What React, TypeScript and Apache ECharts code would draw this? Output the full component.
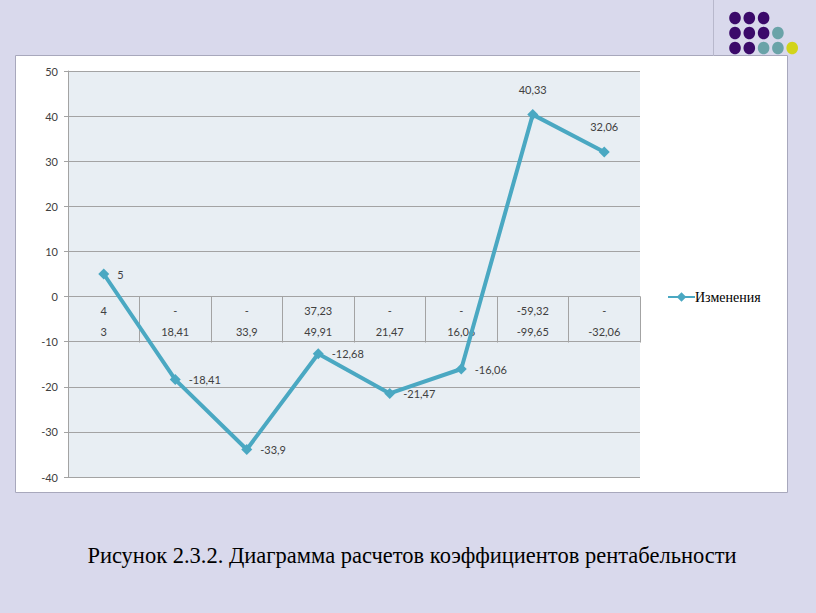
import React, { useEffect, useRef } from "react";
import * as echarts from "echarts";

const seriesName = "Изменения";
const values: number[] = [5, -18.41, -33.9, -12.68, -21.47, -16.06, 40.33, 32.06];
const tableRow1: string[] = ["4", "-", "-", "37,23", "-", "-", "-59,32", "-"];
const tableRow2: string[] = ["3", "18,41", "33,9", "49,91", "21,47", "16,06", "-99,65", "-32,06"];
const labelAbove: boolean[] = [false, false, false, false, false, false, true, true];
const yMin = -40;
const yMax = 50;
const yStep = 10;
const caption = "Рисунок 2.3.2. Диаграмма расчетов коэффициентов рентабельности";

const categories = tableRow1.map((r, i) => r + "\n" + tableRow2[i]);

const dotColors: string[][] = [
  ["#3b0a6a", "#3b0a6a", "#3b0a6a"],
  ["#3b0a6a", "#3b0a6a", "#3b0a6a", "#6aa3a8"],
  ["#3b0a6a", "#3b0a6a", "#6aa3a8", "#6aa3a8", "#d2d41a"],
];

const fmt = (v: number) => String(v).replace(".", ",");

export default function App() {
  const ref = useRef<HTMLDivElement>(null);
  useEffect(() => {
    if (!ref.current) return;
    const chart = echarts.init(ref.current, undefined, { renderer: "svg" });
    const dots: any[] = [];
    dotColors.forEach((row, r) => {
      row.forEach((c, k) => {
        dots.push({
          type: "ellipse",
          shape: { cx: 735 + k * 14.3, cy: 18 + r * 15, rx: 5.8, ry: 6.3 },
          style: { fill: c },
          z: 10,
        });
      });
    });
    chart.setOption({
      animation: false,
      backgroundColor: "#d9d9ec",
      graphic: [
        {
          type: "line",
          shape: { x1: 713.5, y1: 0, x2: 713.5, y2: 56 },
          style: { stroke: "#b8b8cc", lineWidth: 1 },
          z: 0,
        },
        {
          type: "rect",
          shape: { x: 15.5, y: 55.5, width: 772, height: 437 },
          style: { fill: "#ffffff", stroke: "#a8a8bc", lineWidth: 1 },
          z: -10,
        },
        ...dots,
        {
          type: "text",
          x: 412,
          y: 555,
          style: {
            text: caption,
            font: '22.5px "Liberation Serif", "Times New Roman", serif',
            fill: "#000000",
            align: "center",
            verticalAlign: "middle",
          },
        },
      ],
      grid: {
        left: 68,
        right: 176,
        top: 71,
        bottom: 136,
        show: true,
        backgroundColor: "#e8eef3",
        borderWidth: 0,
      },
      legend: {
        left: 662,
        top: 285,
        itemWidth: 27,
        itemHeight: 12,
        itemGap: 4,
        data: [seriesName],
        textStyle: {
          fontFamily: '"Liberation Serif", "Times New Roman", serif',
          fontSize: 14,
          color: "#000000",
          padding: [0, 0, 0, -5],
        },
      },
      xAxis: {
        type: "category",
        data: categories,
        boundaryGap: true,
        axisLine: { onZero: true, lineStyle: { color: "#a3a3a3", width: 1 } },
        axisTick: {
          show: true,
          interval: 0,
          length: 46,
          lineStyle: { color: "#a3a3a3" },
        },
        axisLabel: {
          interval: 0,
          margin: -177,
          fontFamily: "Lato, 'Open Sans', sans-serif",
          fontSize: 11,
          lineHeight: 21,
          color: "#404040",
        },
        splitLine: { show: false },
      },
      yAxis: {
        type: "value",
        min: yMin,
        max: yMax,
        interval: yStep,
        axisLine: { show: true, lineStyle: { color: "#a3a3a3" } },
        axisTick: { show: true, length: 4, lineStyle: { color: "#a3a3a3" } },
        axisLabel: {
          margin: 10,
          fontFamily: "Lato, 'Open Sans', sans-serif",
          fontSize: 11,
          color: "#404040",
        },
        splitLine: { show: true, lineStyle: { color: "#a3a3a3", width: 1 } },
      },
      series: [
        {
          name: seriesName,
          type: "line",
          data: values.map((v, i) => ({
            value: v,
            label: {
              position: labelAbove[i] ? "top" : "right",
              distance: labelAbove[i] ? 14 : 8,
            },
          })),
          symbol: "diamond",
          symbolSize: 11,
          lineStyle: { color: "#4aa8c2", width: 4 },
          itemStyle: { color: "#4aa8c2" },
          label: {
            show: true,
            formatter: (p: any) => fmt(p.value),
            fontFamily: "Lato, 'Open Sans', sans-serif",
            fontSize: 11,
            color: "#404040",
          },
          z: 5,
        },
      ],
    });
    return () => chart.dispose();
  }, []);
  return (
    <div
      ref={ref}
      style={{ position: "fixed", left: 0, top: 0, width: 816, height: 613 }}
    />
  );
}
